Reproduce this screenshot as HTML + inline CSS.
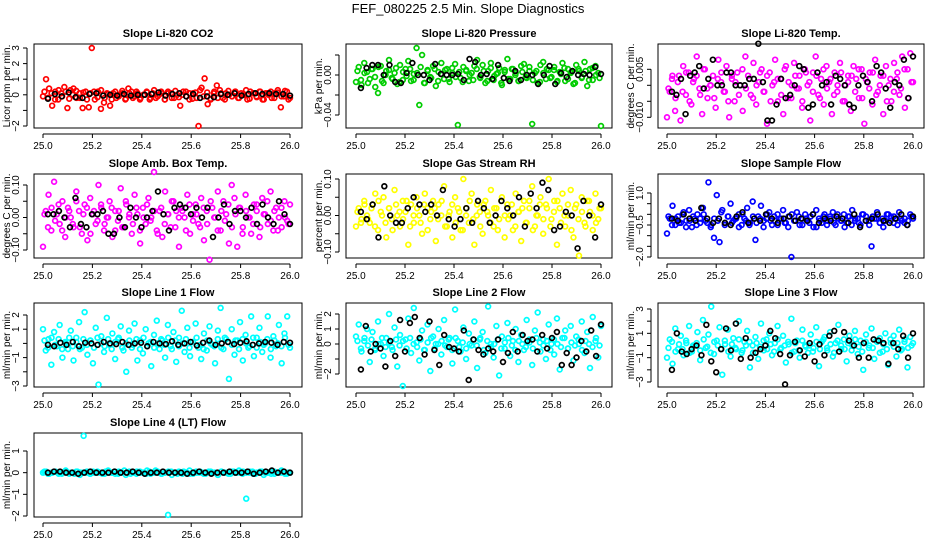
<!DOCTYPE html>
<html><head><meta charset="utf-8"><style>
html,body{margin:0;padding:0;background:#fff;}
svg{display:block;font-family:"Liberation Sans",sans-serif;}
</style></head><body>
<svg id="chart" width="936" height="540" viewBox="0 0 936 540" xmlns="http://www.w3.org/2000/svg">
<text x="468" y="13" text-anchor="middle" font-size="13">FEF_080225  2.5 Min. Slope Diagnostics</text>
</svg>
<script>
// ---- data arrays ----
const xTicks = [25.0, 25.2, 25.4, 25.6, 25.8, 26.0];
const xTickLabels = ["25.0","25.2","25.4","25.6","25.8","26.0"];
const panelTitles = ["Slope Li-820 CO2","Slope Li-820 Pressure","Slope Li-820 Temp.","Slope Amb. Box Temp.","Slope Gas Stream RH","Slope Sample Flow","Slope Line 1 Flow","Slope Line 2 Flow","Slope Line 3 Flow","Slope Line 4 (LT) Flow"];
const yTitles = ["Licor ppm per min.","kPa per min.","degrees C per min.","degrees C per min.","percent per min.","ml/min per min.","ml/min per min.","ml/min per min.","ml/min per min.","ml/min per min."];
const seriesColors = ["#ff0000","#00cd00","#ff00ff","#ff00ff","#ffff00","#0000ff","#00ffff","#00ffff","#00ffff","#00ffff"];

const co2Color = [-0.1,1.0,0.4,-0.7,0.2,-0.3,0.1,0.5,-0.85,0.3,0.4,-0.2,0.1,-0.85,0.2,-0.8,3.0,-0.3,0.2,-0.9,-0.5,0.1,-0.7,0.1,-0.2,0.0,0.1,-0.3,0.4,0.2,-0.1,0.1,-0.2,0.0,0.2,-0.3,0.1,-0.2,0.0,0.1,-0.3,0.2,0.1,-0.2,0.0,-0.7,0.2,-0.1,0.1,-0.25,0.15,-2.0,0.45,1.05,-0.6,-0.3,0.1,0.6,0.3,-0.2,0.1,0.0,-0.1,0.2,-0.2,0.1,0.0,-0.3,0.2,0.1,-0.1,0.2,-0.3,0.1,0.0,-0.2,0.1,0.3,-0.8,-0.1,0.2,-0.2];
const co2Core = [0.2,-0.2,0.1,-0.3,0.3,-0.1,0.2,-0.25,0.0,0.25,-0.2,0.15,-0.3,0.1,0.2,-0.15,0.3,-0.2,0.05,-0.3,0.2,-0.1,0.25,-0.25,0.1,-0.2,0.2,-0.3,0.0,0.15,-0.2,0.3,-0.1,0.2,-0.3,0.1,-0.2,0.25,-0.15,0.0,0.2,-0.3,0.1,-0.2,0.3,-0.1,0.15,-0.25,0.2,-0.2,0.1,-0.3,0.25,-0.1,0.2,-0.2,0.0,0.3,-0.25,0.1,-0.15,0.2,-0.3,0.1,0.2,-0.2,0.15,-0.1,0.25,-0.3];
const co2Black = [-0.25,0.05,-0.1,0.15,-0.15,-0.2,0.05,0.1,-0.05,0.0,-0.05,0.05,-0.05,0.0,0.0,0.05,0.15,-0.05,0.05,0.1,-0.1,0.05,-0.2,-0.1,-0.15,0.05,0.0,0.1,-0.05,0.05,0.1,0.05,0.1,0.05,0.05,-0.05];
const presColor = [-0.007,0.008,-0.01,0.012,0.003,-0.004,0.006,-0.012,-0.018,0.009,-0.008,0.004,0.015,-0.003,0.002,-0.009,0.01,-0.005,0.006,0.014,-0.006,0.001,0.027,-0.03,0.02,-0.008,0.005,-0.002,0.009,-0.011,0.003,0.012,-0.004,0.006,-0.007,0.002,0.011,-0.05,-0.003,0.008,0.004,-0.006,0.002,0.009,0.015,-0.002,0.01,-0.008,0.004,0.012,-0.005,0.001,0.007,-0.01,0.003,0.016,-0.004,0.006,0.002,-0.006,0.009,0.011,-0.003,0.004,-0.049,0.002,-0.008,0.01,0.013,-0.004,0.005,-0.002,0.008,-0.007,0.003,0.012,-0.006,0.006,0.002,-0.009,0.01,0.004,-0.003,0.013,-0.011,0.006,-0.005,0.009,0.002,-0.051];
const presCore = [0.004,-0.005,0.002,-0.008,0.006,-0.002,0.008,-0.006,0.0,0.005,-0.004,0.007,-0.007,0.003,-0.001,0.006,-0.005,0.002,0.008,-0.008,0.004,-0.003,0.006,-0.006,0.001,0.005,-0.004,0.007,-0.002,0.003,-0.007,0.005,0.0,-0.005,0.006,-0.003,0.004,-0.006,0.007,-0.001,0.002,-0.008,0.005,-0.004,0.006,0.0,-0.006,0.003,-0.002,0.008,-0.005,0.004,-0.007,0.002,0.006,-0.003,0.005,-0.006,0.001,0.007,-0.004,0.003,-0.008,0.006,-0.002,0.004,-0.005,0.007,0.0,-0.003];
const presBlack = [-0.013,0.007,0.01,0.01,0.0,0.01,-0.007,-0.008,0.002,0.012,0.0,0.0,-0.005,0.011,0.001,0.0,0.0,0.001,-0.005,0.016,0.013,0.0,0.001,-0.004,0.01,-0.003,-0.006,0.004,-0.005,0.0,0.0,-0.009,0.0,0.009,-0.009,0.002,-0.002,0.004,0.0,0.001,0.0,0.008,0.001];
const tempColor = [-0.01,-0.002,0.003,-0.008,0.001,-0.011,0.006,-0.003,0.004,-0.006,0.002,0.009,-0.001,-0.009,0.005,-0.004,0.0,0.003,-0.007,0.008,0.001,-0.002,0.006,-0.01,0.002,-0.005,0.004,0.0,-0.008,0.009,0.003,-0.003,0.007,-0.006,0.001,0.005,-0.002,-0.012,0.004,0.0,0.008,-0.005,0.002,-0.009,0.006,0.001,-0.004,0.007,-0.001,0.003,-0.007,0.005,0.0,-0.011,0.004,0.009,-0.003,0.002,-0.006,0.006,0.001,-0.009,0.004,-0.002,0.007,-0.005,0.0,0.003,-0.008,0.006,0.002,-0.004,0.005,-0.012,0.001,0.004,-0.006,0.008,-0.002,0.003,-0.009,0.006,0.0,-0.005,0.007,0.002,-0.003,0.009,-0.007,0.005,0.01,0.001];
const tempCore = [-0.001,0.002,-0.004,0.003,-0.002,0.004,-0.005,0.001,0.003,-0.003,0.005,-0.001,0.0,-0.004,0.002,0.004,-0.002,-0.005,0.003,0.001,-0.003,0.005,-0.001,0.002,-0.004,0.0,0.004,-0.002,0.003,-0.005,0.001,0.002,-0.003,0.005,-0.004,0.0,0.003,-0.001,-0.005,0.004,0.001,-0.002,0.003,-0.004,0.005,-0.001,0.002,-0.003,0.0,0.004,-0.005,0.001,0.003,-0.002,0.005,-0.004,0.002,-0.001,0.004,-0.003,0.0,0.003,-0.005,0.002,-0.002,0.004,-0.001,0.005,-0.004,0.001];
const tempBlack = [-0.002,-0.003,0.002,-0.009,0.003,0.004,0.006,-0.001,0.002,0.008,0.0,0.0,0.004,0.004,0.0,0.0,0.0,0.002,0.002,0.013,0.001,-0.011,-0.011,-0.006,0.002,-0.004,-0.003,0.0,0.006,0.005,-0.007,-0.006,0.004,0.0,0.001,-0.006,0.003,0.002,0.0,-0.006,-0.007,0.0,0.003,0.001,-0.005,0.006,0.004,-0.001,-0.007,0.001,0.0,0.008,-0.004,0.009];
const ambColor = [-0.09,0.02,0.07,-0.04,0.11,0.01,-0.02,0.05,-0.06,0.03,0.0,-0.03,0.08,0.02,-0.05,0.04,-0.07,0.06,0.01,-0.02,0.10,0.03,-0.04,0.0,0.05,-0.06,0.02,-0.01,0.09,-0.03,0.04,0.0,-0.05,0.07,0.01,-0.08,0.03,-0.02,0.06,0.0,0.14,-0.04,0.02,-0.06,0.08,0.01,-0.03,0.05,0.02,-0.09,0.03,0.0,0.07,-0.05,0.01,0.04,-0.02,0.06,-0.07,0.02,-0.13,0.03,0.0,0.08,-0.04,0.05,0.01,-0.08,0.10,0.06,-0.09,0.03,-0.03,0.07,0.0,-0.05,0.04,0.02,-0.06,0.06,0.01,-0.02,0.08,-0.04,0.03,0.0,-0.03,0.05,-0.01,0.04];
const ambCore = [0.01,-0.03,0.03,-0.01,0.04,-0.04,0.0,0.02,-0.02,0.05,-0.03,0.01,0.03,-0.05,0.02,-0.01,0.04,-0.02,0.0,0.03,-0.04,0.02,-0.03,0.05,0.01,-0.02,0.03,-0.04,0.0,0.04,-0.01,0.02,-0.05,0.03,-0.02,0.01,0.05,-0.03,0.0,0.02,-0.04,0.04,-0.01,0.01,-0.03,0.03,-0.02,0.05,0.0,-0.04,0.02,-0.01,0.04,-0.03,0.01,0.03,-0.05,0.02,0.0,-0.02,0.04,-0.03,0.01,0.05,-0.01,0.02,-0.04,0.03,0.0,-0.02];
const ambBlack = [0.01,0.01,0.02,0.0,-0.03,0.06,-0.02,-0.03,0.01,0.01,0.02,-0.05,-0.05,0.0,-0.03,0.03,0.0,-0.03,0.0,0.02,0.08,0.01,-0.04,0.03,0.04,0.03,0.01,0.03,0.0,0.03,-0.06,0.0,0.04,-0.02,0.02,0.02,0.0,0.03,-0.02,0.04,0.0,-0.02,0.05,0.01,-0.02];
const rhColor = [-0.03,0.02,-0.01,0.04,0.0,-0.02,0.03,0.06,-0.04,0.01,0.05,-0.06,0.02,-0.01,0.07,0.0,-0.03,0.04,0.01,-0.08,0.03,-0.02,0.05,0.0,-0.05,0.06,0.02,-0.01,0.04,-0.07,0.03,0.0,0.08,-0.03,0.01,-0.06,0.05,0.02,-0.04,0.1,0.0,-0.02,0.06,-0.08,0.03,0.01,-0.05,0.04,0.0,0.07,-0.03,0.02,-0.01,0.05,-0.06,0.03,0.0,-0.04,0.06,0.01,-0.07,0.04,-0.02,0.02,0.08,-0.03,0.0,0.05,-0.05,0.03,0.1,-0.01,0.04,-0.08,0.02,0.06,-0.03,0.0,0.07,-0.06,0.03,-0.11,0.05,-0.02,0.04,0.01,-0.04,0.06,-0.01,0.02];
const rhCore = [0.01,-0.02,0.03,-0.01,0.02,-0.03,0.04,0.0,-0.02,0.02,-0.04,0.03,0.01,-0.01,0.04,-0.03,0.0,0.02,-0.02,0.03,-0.04,0.01,0.02,-0.01,0.04,-0.03,0.0,0.03,-0.02,0.01,-0.04,0.02,0.04,-0.01,0.0,-0.03,0.03,0.01,-0.02,0.02,-0.04,0.04,0.0,-0.01,0.03,-0.03,0.01,0.02,-0.02,0.04,-0.04,0.0,0.03,-0.01,0.02,-0.03,0.01,0.04,-0.02,0.0,0.03,-0.04,0.02,-0.01,0.01,-0.03,0.04,0.0,-0.02,0.02];
const rhBlack = [0.01,-0.01,0.03,-0.06,0.08,0.0,-0.02,-0.02,0.02,0.05,0.03,0.01,0.03,0.0,0.07,-0.01,-0.03,-0.01,0.02,-0.02,0.04,0.02,-0.02,0.0,0.04,0.02,0.0,0.05,-0.03,0.06,0.02,0.09,0.07,-0.04,-0.03,0.01,0.0,-0.09,0.04,0.0,-0.06,0.03];
const sampleColor = [-0.9,-0.2,0.4,-0.5,-0.1,-0.4,0.1,-0.3,0.2,-0.6,-0.2,0.0,-0.4,0.3,-0.3,1.5,-0.5,-1.1,0.9,-1.3,0.2,-0.4,-0.1,0.5,-0.3,-0.2,0.0,-0.5,-0.2,0.3,-0.4,0.6,-1.2,-0.1,0.4,-0.3,-0.2,0.1,-0.5,-0.3,0.0,-0.2,0.2,-0.4,-0.1,-2.0,-0.3,0.1,-0.5,-0.2,0.0,-0.3,-0.1,-0.6,0.2,-0.2,-0.4,0.0,-0.3,-0.1,0.1,-0.5,-0.2,-0.3,0.0,-0.4,-0.1,0.2,-0.3,-0.2,-0.5,0.0,-0.1,-0.3,-1.5,-0.2,0.1,-0.4,-0.2,-0.3,0.0,-0.1,-0.4,-0.2,0.1,-0.3,-0.2,-0.5,0.0,-0.2];
const sampleCore = [-0.1,-0.5,-0.2,-0.4,0.0,-0.6,-0.3,-0.1,-0.5,-0.2,0.0,-0.4,-0.6,-0.2,-0.3,0.1,-0.5,-0.1,-0.4,-0.2,-0.6,0.0,-0.3,-0.5,-0.1,-0.4,-0.2,-0.6,0.0,-0.3,-0.1,-0.5,-0.2,-0.4,-0.6,0.0,-0.3,-0.1,-0.5,-0.2,-0.4,0.0,-0.6,-0.3,-0.1,-0.5,-0.2,-0.4,0.0,-0.3,-0.6,-0.1,-0.5,-0.2,-0.4,0.0,-0.3,-0.5,-0.1,-0.2,-0.4,-0.6,0.0,-0.3,-0.1,-0.5,-0.2,-0.4,-0.3,-0.1];
const sampleBlack = [-0.2,-0.3,0.0,-0.2,-0.3,0.3,-0.2,-0.4,-0.2,-0.4,-0.5,-0.1,0.1,-0.4,-0.2,-0.3,0.0,-0.2,-0.4,-0.2,-0.1,-0.3,-0.2,-0.3,0.0,-0.4,-0.2,-0.3,-0.1,-0.2,-0.4,0.0,-0.6,-0.3,-0.2,0.0,-0.3,-0.4,-0.2,0.0,-0.5,-0.1];
const line1Color = [1.0,-0.5,0.3,-1.5,0.8,-0.2,1.3,-1.0,0.1,-0.4,0.9,-1.2,0.4,1.5,-0.3,2.2,-0.8,0.2,-1.4,1.1,-2.9,0.5,-0.6,1.8,-0.1,0.7,-1.1,0.3,1.2,-0.5,-2.0,0.9,-0.3,1.4,-1.2,0.2,-0.7,1.0,0.0,-1.6,0.6,1.6,-0.4,0.2,-1.0,1.3,-0.2,0.8,-1.3,0.4,2.3,-0.6,1.1,-0.9,0.1,1.4,-0.3,-1.1,0.7,-0.5,1.2,-0.1,-1.4,0.9,2.5,-0.4,0.3,-2.5,1.0,-0.8,0.2,1.5,-1.2,0.6,-0.3,1.9,-0.9,0.4,1.1,-0.6,0.0,1.9,-1.0,0.5,-0.2,1.3,-1.4,0.7,1.9,-0.3];
const line1Core = [0.2,-0.3,0.4,-0.1,0.3,-0.4,0.0,0.4,-0.2,0.1,-0.4,0.3,-0.1,0.2,-0.3,0.4,0.0,-0.2,0.3,-0.4,0.1,0.4,-0.3,0.0,0.2,-0.1,0.3,-0.4,0.4,-0.2,0.1,-0.3,0.0,0.3,-0.1,0.4,-0.4,0.2,-0.2,0.0,0.3,-0.3,0.1,0.4,-0.1,-0.4,0.2,0.0,-0.2,0.3,-0.3,0.4,0.1,-0.1,0.2,-0.4,0.3,0.0,-0.2,0.4,-0.3,0.1,-0.1,0.3,-0.4,0.2,0.0,-0.2,0.4,-0.1];
const line1Black = [-0.1,-0.2,0.05,-0.1,0.1,-0.2,0.05,0.0,-0.1,0.1,0.0,-0.05,0.1,-0.1,0.0,0.05,-0.2,0.1,0.0,-0.05,0.15,-0.1,0.0,0.1,-0.15,0.05,0.2,-0.1,0.0,0.1,-0.05,0.05,0.15,-0.1,0.0,0.1,0.05,-0.1,0.1,0.05];
const line2Color = [0.5,1.3,-0.5,0.2,1.0,-1.2,0.8,-0.3,1.5,0.0,-0.8,0.4,2.0,-0.2,1.1,-1.5,0.6,-2.8,0.3,1.7,-0.6,2.4,0.1,-1.1,0.9,-0.4,1.3,-1.8,0.5,0.0,1.0,-0.7,1.6,-0.2,0.4,-1.3,2.3,0.2,-0.5,1.1,-1.0,0.7,-0.1,1.5,-1.6,0.3,0.8,-0.6,2.5,0.0,-0.9,1.2,-2.1,0.5,-0.3,1.4,-0.8,0.2,1.0,-1.2,0.6,-0.4,1.6,0.1,-1.4,0.9,2.1,-0.5,0.3,-1.0,1.3,0.0,-0.7,1.7,-1.7,0.4,0.9,-0.3,1.2,-1.1,0.5,0.0,1.5,-0.6,0.8,-1.6,1.8,0.2,-0.9,1.2];
const line2Core = [0.2,-0.3,0.4,-0.1,0.3,-0.4,0.0,0.4,-0.2,0.1,-0.4,0.3,-0.1,0.2,-0.3,0.4,0.0,-0.2,0.3,-0.4,0.1,0.4,-0.3,0.0,0.2,-0.1,0.3,-0.4,0.4,-0.2,0.1,-0.3,0.0,0.3,-0.1,0.4,-0.4,0.2,-0.2,0.0,0.3,-0.3,0.1,0.4,-0.1,-0.4,0.2,0.0,-0.2,0.3,-0.3,0.4,0.1,-0.1,0.2,-0.4,0.3,0.0,-0.2,0.4,-0.3,0.1,-0.1,0.3,-0.4,0.2,0.0,-0.2,0.4,-0.1];
const line2Black = [-1.7,1.2,-0.5,0.0,-0.3,-1.5,0.2,-0.8,1.6,-0.5,1.4,1.8,0.4,-0.7,1.5,-0.4,-1.4,0.6,-0.2,-0.3,-0.5,0.9,-2.4,0.3,-0.4,-0.7,-0.3,-0.5,0.3,-1.2,-0.6,0.8,-0.5,0.6,0.2,0.3,-0.5,0.6,-0.3,0.4,0.8,-1.4,-0.6,-1.4,-0.9,0.2,-0.5,0.9,-0.8,1.3];
const line3Color = [-1.0,0.5,-1.5,1.4,-0.3,0.8,-0.8,0.2,1.6,-0.5,0.0,1.1,-1.2,2.1,-0.2,0.9,3.2,-0.7,0.4,1.5,-2.4,0.1,1.3,-0.9,0.6,-0.3,2.0,-0.6,0.3,1.2,-1.8,0.0,0.7,-1.1,1.8,-0.4,0.5,1.0,-0.8,0.2,1.6,-0.3,0.8,-1.4,0.1,2.2,-0.5,0.4,-1.0,1.3,0.0,-0.6,0.9,-0.2,1.5,-1.7,0.3,0.7,-0.4,1.1,-0.9,0.2,1.7,-0.3,0.5,-1.3,0.8,0.0,1.2,-0.7,0.4,-2.0,0.9,-0.2,1.4,-1.1,0.3,0.6,-0.5,1.0,-1.6,0.2,0.8,-0.9,1.3,-0.3,0.5,-1.8,0.7,0.2];
const line3Core = [-0.2,0.3,-0.5,0.1,-0.3,0.4,-0.6,0.0,0.2,-0.4,0.5,-0.1,-0.6,0.3,0.0,-0.3,0.4,-0.5,0.1,-0.2,0.5,-0.4,0.0,0.3,-0.6,0.2,-0.1,0.4,-0.3,0.1,-0.5,0.5,-0.2,0.0,0.3,-0.6,0.2,-0.4,0.4,-0.1,0.0,-0.5,0.3,-0.3,0.5,-0.2,0.1,-0.6,0.4,0.0,-0.3,0.2,-0.4,0.5,-0.1,-0.5,0.3,0.0,-0.2,0.4,-0.6,0.1,-0.3,0.5,-0.1,0.2,-0.4,0.3,-0.2,0.0];
const line3Black = [-2.0,1.0,-0.5,-0.7,-0.3,0.0,-0.8,1.7,-1.3,-2.2,-0.3,1.4,-0.4,1.8,-1.1,0.6,-1.0,-0.6,-0.3,0.0,1.2,0.6,-0.7,-3.2,-0.8,0.3,-0.4,-0.9,0.2,-1.3,0.1,-0.8,0.8,1.2,-0.5,1.1,0.4,0.0,-1.0,0.2,-1.0,0.5,0.4,0.2,-1.5,0.2,-0.3,0.8,-1.0,1.0];
const line4Color = [0.0,0.05,-0.05,0.0,0.05,0.0,-0.05,0.05,0.0,0.0,-0.05,0.05,0.0,1.7,0.0,-0.05,0.05,0.0,0.0,-0.05,0.05,0.0,0.0,0.05,-0.05,0.0,0.1,0.0,-0.05,0.0,0.05,0.0,0.0,-0.05,0.05,0.0,0.1,0.0,-0.05,0.0,-1.95,0.05,0.0,-0.05,0.0,0.05,0.0,-0.05,0.0,0.05,0.0,0.0,-0.05,0.05,0.0,0.0,-0.1,0.05,0.0,0.0,-0.05,0.05,0.0,0.0,0.05,-1.2,0.0,0.05,-0.05,0.0,0.05,0.0,0.0,-0.05,0.05,0.0,0.0,0.05,-0.05,0.0];
const line4Core = [0.05,-0.05,0.0,0.05,-0.05,0.0,0.1,-0.05,0.0,0.05,-0.1,0.0,0.05,-0.05,0.0,0.05,0.0,-0.05,0.1,0.0,-0.05,0.05,0.0,-0.1,0.05,0.0,-0.05,0.05,0.0,0.1,-0.05,0.0,0.05,-0.05,0.0,0.05,-0.1,0.0,0.05,-0.05,0.0,0.1,-0.05,0.0,0.05,-0.05,0.0,0.05,0.0,-0.1,0.05,0.0,-0.05,0.05,0.0,0.1,-0.05,0.0,0.05,-0.05,0.0,0.05,-0.1,0.0,0.05,-0.05,0.0,0.1,-0.05,0.0];
const line4Black = [0.0,0.05,0.05,0.0,0.0,-0.05,0.0,0.05,0.0,0.0,0.0,0.05,0.0,0.0,0.05,0.0,-0.05,0.0,0.0,0.05,0.0,0.0,0.0,-0.05,0.0,0.05,0.0,-0.05,0.0,0.0,0.05,0.0,0.0,0.05,-0.05,0.0,0.05,0.1,0.0,0.05,0.0];

const colorSeries = [co2Color,presColor,tempColor,ambColor,rhColor,sampleColor,line1Color,line2Color,line3Color,line4Color];
const coreSeries = [co2Core,presCore,tempCore,ambCore,rhCore,sampleCore,line1Core,line2Core,line3Core,line4Core];
const blackSeries = [co2Black,presBlack,tempBlack,ambBlack,rhBlack,sampleBlack,line1Black,line2Black,line3Black,line4Black];
const yDomains = [[-2,3],[-0.04,0.02],[-0.010,0.005],[-0.10,0.10],[-0.10,0.10],[-2.0,1.0],[-3,2],[-2,2],[-3,3],[-2,1]];
const yTickVals = [[-2,-1,0,1,2,3],[-0.04,-0.02,0.00,0.02],[-0.010,-0.005,0.000,0.005],[-0.10,-0.05,0.00,0.05,0.10],[-0.10,-0.05,0.00,0.05,0.10],[-2.0,-1.5,-1.0,-0.5,0.0,0.5,1.0],[-3,-2,-1,0,1,2],[-2,-1,0,1,2],[-3,-2,-1,0,1,2,3],[-2,-1,0,1]];
const yTickLabels = [["-2","","0","1","2","3"],["-0.04","","0.00",""],["-0.010","","","0.005"],["-0.10","","0.00","","0.10"],["-0.10","","0.00","","0.10"],["-2.0","","","-0.5","","","1.0"],["-3","","-1","","1","2"],["-2","","0","1","2"],["-3","","-1","","1","","3"],["-2","-1","0","1"]];

// layout (pixel geometry, not data)
const colGeo = [{l:34,r:302,x0:43,x1:290},{l:346,r:612,x0:356,x1:601},{l:658,r:924,x0:667,x1:913}];
const rowGeo = [{t:44,b:128},{t:174,b:258},{t:303,b:387},{t:433,b:517}];
const yPix = [[126,48],[115,55],[117.3,69.3],[250,185],[252,179],[257,193],[386,315],[374,314],[382,309],[516,451]];

const NS = "http://www.w3.org/2000/svg";
const svg = document.getElementById('chart');
function mk(tag, attrs, parent){const e=document.createElementNS(NS,tag);for(const k in attrs)e.setAttribute(k,attrs[k]);(parent||svg).appendChild(e);return e;}

for (let p=0;p<10;p++){
  const c=colGeo[p%3], r=rowGeo[Math.floor(p/3)];
  const g=mk('g',{});
  
  
  const [d0,d1]=yDomains[p], [py0,py1]=yPix[p];
  const xs=v=>c.x0+(v-25)*(c.x1-c.x0);
  const ys=v=>py0+(v-d0)/(d1-d0)*(py1-py0);
  const box=mk('rect',{x:c.l,y:r.t,width:c.r-c.l,height:r.b-r.t,fill:'none',stroke:'#000','stroke-width':1},g);
  
  
  const t=mk('text',{x:(c.l+c.r)/2,y:r.t-7,'text-anchor':'middle','font-size':11,'font-weight':'bold'},g);
  t.textContent=panelTitles[p];
  
  
  const ax=r.b+6;
  const xl=mk('line',{x1:xs(xTicks[0]),x2:xs(xTicks[xTicks.length-1]),y1:ax,y2:ax,stroke:'#000'},g);
  
  
  xTicks.forEach((v,i)=>{
    mk('line',{x1:xs(v),x2:xs(v),y1:ax,y2:ax+4,stroke:'#000'},g);
    const tl=mk('text',{x:xs(v),y:ax+15,'text-anchor':'middle','font-size':10},g);
    tl.textContent=xTickLabels[i];
    
    
  });
  const ay=c.l-7, tv=yTickVals[p];
  const yl=mk('line',{x1:ay,x2:ay,y1:ys(tv[0]),y2:ys(tv[tv.length-1]),stroke:'#000'},g);
  
  
  tv.forEach((v,i)=>{
    const yy=ys(v);
    mk('line',{x1:ay-4,x2:ay,y1:yy,y2:yy,stroke:'#000'},g);
    if(yTickLabels[p][i]){
      const tl=mk('text',{x:ay-8,y:yy,'text-anchor':'middle','font-size':10,transform:`rotate(-90 ${ay-8} ${yy})`},g);
      tl.textContent=yTickLabels[p][i].replace('-','\u2212');
      
      
    }
  });
  const yt=mk('text',{x:c.l-24,y:(r.t+r.b)/2,'text-anchor':'middle','font-size':10,transform:`rotate(-90 ${c.l-24} ${(r.t+r.b)/2})`},g);
  yt.textContent=yTitles[p];
  
  
  const cs=colorSeries[p];
  cs.forEach((v,i)=>{
    const pt=mk('circle',{cx:xs(25+i/(cs.length-1)),cy:ys(v),r:2.4,fill:'none',stroke:seriesColors[p],'stroke-width':1.7},g);
    
    
  });
  const cc=coreSeries[p];
  cc.forEach((v,i)=>{
    const pt=mk('circle',{cx:xs(25.006+i*0.988/(cc.length-1)),cy:ys(v),r:2.4,fill:'none',stroke:seriesColors[p],'stroke-width':1.7},g);
    
    
  });
  const bs=blackSeries[p];
  bs.forEach((v,i)=>{
    const pt=mk('circle',{cx:xs(25.02+i*0.98/(bs.length-1)),cy:ys(v),r:2.4,fill:'none',stroke:'#000','stroke-width':1.7},g);
    
    
  });
}
</script>
</body></html>
